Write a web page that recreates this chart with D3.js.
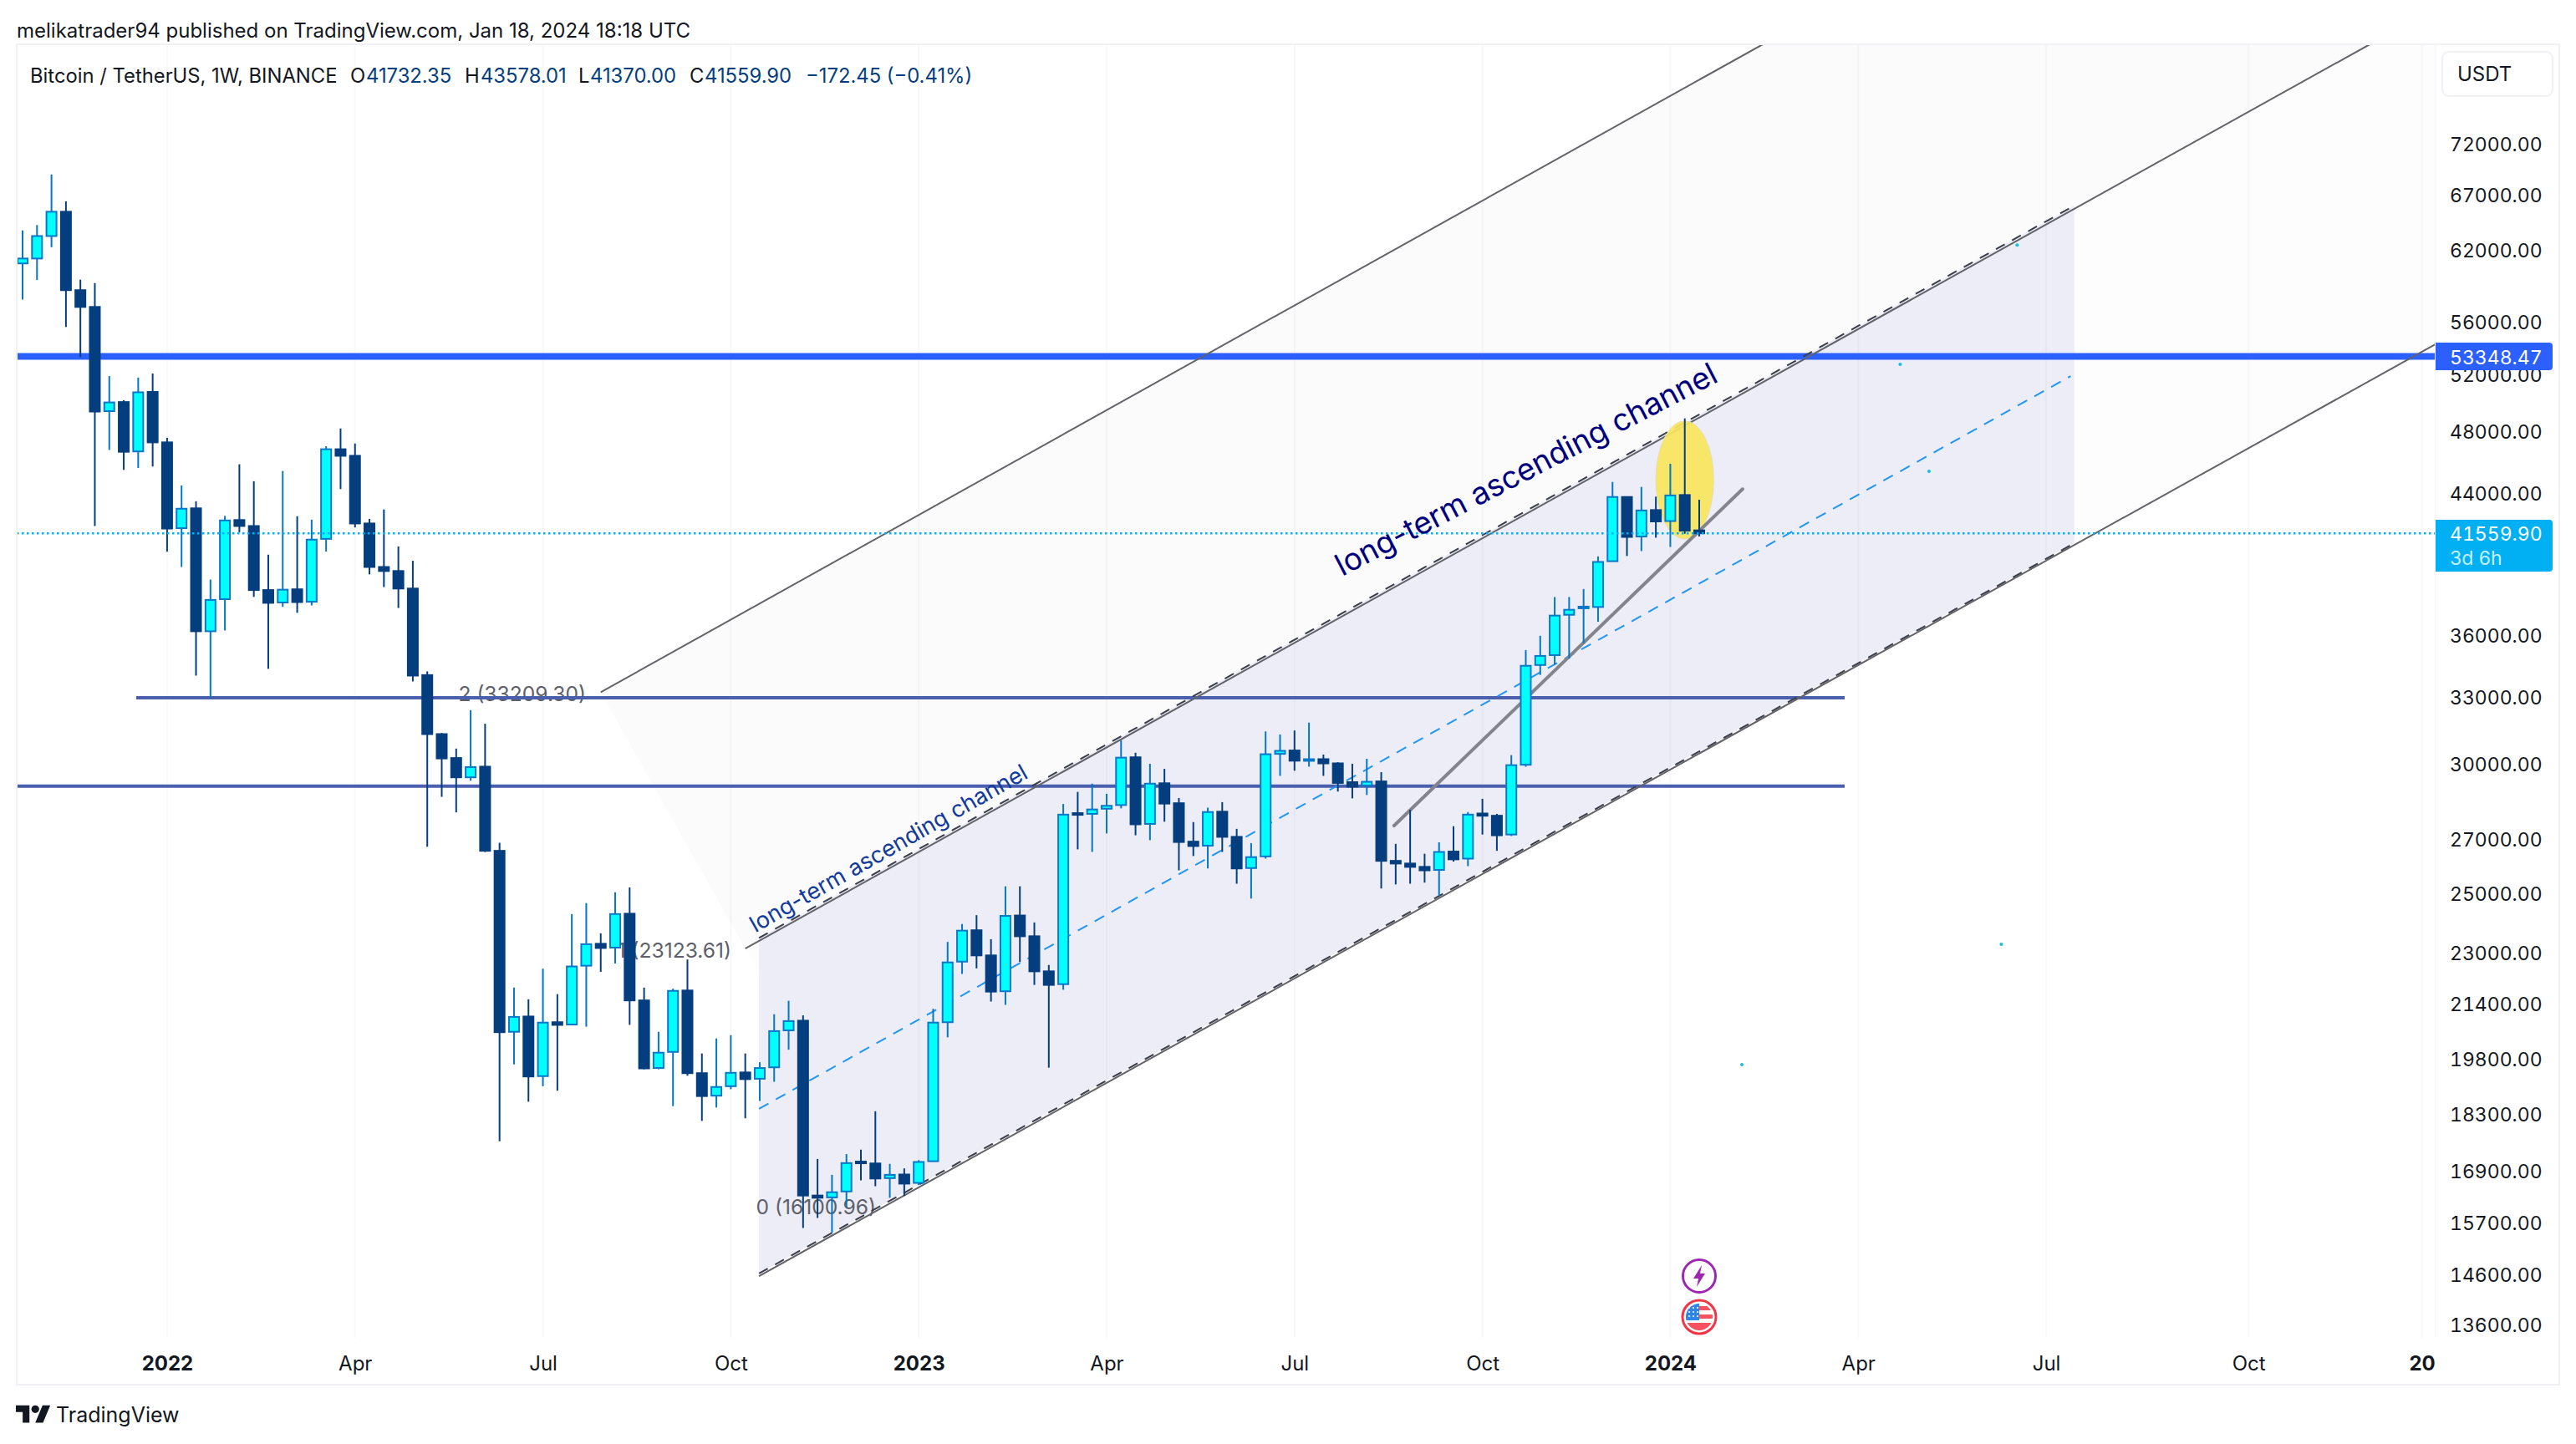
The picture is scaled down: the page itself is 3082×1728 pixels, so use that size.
<!DOCTYPE html>
<html>
<head>
<meta charset="utf-8">
<script src="https://cdn.jsdelivr.net/npm/d3@7"></script>
<style>
  html, body { margin: 0; padding: 0; background: #fff; }
  svg { display: block; }
  text { font-family: Inter, "Noto Sans", sans-serif; }
</style>
</head>
<body>
<script>
// DATA - weekly BTCUSDT candles
var weekOpen = [60833,61257,63232,65440,58580,57209,49380,50020,46653,50740,47253,41859,43051,36191,37869,42345,41989,38359,37693,38400,37732,41233,46797,46365,42140,39630,39404,38441,34020,31300,30261,29447,29894,26545,20559,21008,19312,20840,20772,22570,23280,23154,24290,21491,19534,19984,21794,19393,18786,19039,19413,19241,19554,20601,20885,16316,16273,16410,17117,17072,16722,16808,16610,17126,20840,22700,23729,22901,21771,24228,23529,22392,21990,27995,27966,28170,28316,30293,27571,29201,28390,26891,26739,28053,27074,25907,26337,30439,30585,30147,30212,30033,29247,29108,29278,26172,26073,25950,25838,26517,26254,27981,27893,27163,29975,34507,34992,37042,37410,37452,39954,43745,41371,42946,42284,43867,41732.35];
var weekHigh = [63727,64222,68977,66411,59456,59174,51888,50153,51782,52078,47557,44467,43484,38932,42596,45813,44731,40324,45381,42573,42368,46998,48189,47177,42414,42983,40799,39978,34200,31349,30667,32377,31761,26850,21884,21525,22476,21682,24278,24657,23628,25038,25209,21884,20559,21850,22771,19941,20367,20463,19941,19696,21075,21480,21042,17181,16800,17299,17408,18378,17062,16953,17153,21240,23342,23941,24240,23432,25249,25249,23990,22594,28360,28847,29185,28770,31024,30488,30017,29801,28600,27644,28214,28433,27381,26836,31419,31284,31460,31812,30407,30082,30017,30228,29663,26808,28126,26435,26864,27484,28039,28569,27966,30387,35244,35962,37984,37984,38414,40228,44686,43770,44372,43767,45843,48877,43578.01];
var weekLow = [57801,59425,62242,55611,53290,41989,46749,45453,45573,45669,40498,39630,33995,32962,36230,41622,37989,34320,37459,37147,37537,40498,44237,41902,39220,38523,37400,33715,26697,28646,28024,29309,26500,17617,19635,18627,19039,18918,20772,20708,22376,22640,20761,19500,19500,18512,19322,18129,18474,18958,18196,18647,19160,20047,15585,15807,15479,16040,16670,16532,16265,16307,16558,17126,20400,22310,22485,21457,21356,22688,21967,19544,21817,26600,26503,27206,28185,27133,26947,27659,25824,26351,25893,26503,25341,24815,26254,29508,29724,29894,29508,28862,28585,28723,25170,25315,25341,25380,24907,26144,25977,27162,26545,27104,29892,34029,34525,34819,35593,36680,39954,40249,40530,41305,40768,41530,41370.00];
var weekClose = [61257,63232,65440,58580,57209,49353,49993,46629,50714,47253,41838,43028,36191,37830,42322,41989,38359,37673,38380,37713,41190,46797,46365,42140,39630,39404,38441,33995,31300,30244,29447,29878,26545,20548,20997,19302,20828,20761,22546,23267,23142,24278,21491,19524,19962,21783,19393,18776,19019,19403,19231,19534,20580,20873,16316,16265,16393,17081,17090,16713,16800,16593,17108,20828,22676,23716,22901,21760,24215,23529,22392,21967,27937,27937,28141,28287,30277,27557,29185,28375,26877,26725,28039,27074,25893,26310,30423,30569,30147,30212,30033,29216,29062,29262,26172,26073,25950,25824,26503,26227,27937,27893,27133,29958,34470,34953,37001,37306,37472,39912,43745,41348,42923,42261,43842,41713,41559.90];

var priceTicks = [72000,67000,62000,56000,52000,48000,44000,36000,33000,30000,27000,25000,23000,21400,19800,18300,16900,15700,14600,13600];
var timeTicks = [10,23,36,49,62,75,88,101,114,127,140,154,166];
var timeLabels = ["2022","Apr","Jul","Oct","2023","Apr","Jul","Oct","2024","Apr","Jul","Oct","20"];
var boldLabels = ["2022","2023","2024","20"];

// drawings, as [week, price]
var fanUpper = [[40,33209.30],[120.4,82890],[162.4,82890],[50,23123.61]];
var fanLower = [[50,23123.61],[162.4,82890],[167,82890],[167,54274],[60,16100.96]];
var channelFill = [[50.95,23472],[141.95,66009],[141.95,40983],[50.95,14616]];
var solidLines = [
  [[40,33209.30],[120.4,82890]],
  [[50,23123.61],[162.4,82890]],
  [[50.95,14561],[166.94,54274]]
];
var dashedLines = [
  [[50.95,23472],[141.95,66009]],
  [[50.95,14616],[141.95,40983]]
];
var midLine = [[50.95,18441],[141.7,51891]];
var trendLine = [[94.89,27506],[119,44238]];
var levelLines = [
  [[7.86,32950],[126.06,32950]],
  [[-1,29080],[126.06,29080]]
];
var resistancePrice = 53348.47;
var lastPrice = 41559.90;
var strayDots = [[129.9,52754],[131.9,45360],[136.9,23263],[118.95,19627],[138,62429]];
var ellipseWeeks = [113,117];
var ellipsePrices = [41229,48706];

var width = 3082, height = 1728;
var plot = {left:20, top:53, right:3062, bottom:1657, axisX:2914, axisY:1601};

var svg = d3.select("body").append("svg")
  .attr("width", width).attr("height", height)
  .attr("viewBox", "0 0 " + width + " " + height);

// scales
var x = d3.scaleLinear().domain([0,116]).range([27,2033]);
var y = d3.scaleLog().domain([13600,72000]).range([1585,172.4]);
var path = d3.line().x(function(d){return x(d[0])}).y(function(d){return y(d[1])});

svg.append("clipPath").attr("id","plotClip").append("rect")
  .attr("x",plot.left).attr("y",plot.top)
  .attr("width",plot.axisX-plot.left).attr("height",plot.axisY-plot.top);

var chart = svg.append("g").attr("clip-path","url(#plotClip)");

// fills
chart.append("path").attr("d",path(fanLower)+"Z").attr("fill","#fdfdfd");
chart.append("path").attr("d",path(fanUpper)+"Z").attr("fill","#fbfbfb");
chart.append("path").attr("d",path(channelFill)+"Z").attr("fill","#ecedf6");

// vertical grid
chart.selectAll(".grid").data(timeTicks).enter().append("line")
  .attr("x1",x).attr("x2",x).attr("y1",plot.top).attr("y2",plot.axisY)
  .attr("stroke","#b0b0c8").attr("stroke-opacity",0.09).attr("stroke-width",2);

// fib labels sit under the candles
var fibLabels = chart.append("g").attr("fill","#5d606b").attr("font-size",24.6).attr("text-anchor","end");
fibLabels.append("text").attr("x",701).attr("y",839).text("2 (33209.30)");
fibLabels.append("text").attr("x",875).attr("y",1146).text("1 (23123.61)");
fibLabels.append("text").attr("x",1048).attr("y",1453).text("0 (16100.96)");

// level lines
chart.selectAll(".level").data(levelLines).enter().append("path")
  .attr("d",path).attr("fill","none").attr("stroke","#4a5fae").attr("stroke-width",4);
chart.append("line").attr("x1",plot.left).attr("x2",plot.axisX)
  .attr("y1",y(resistancePrice)).attr("y2",y(resistancePrice))
  .attr("stroke","#2b60ff").attr("stroke-width",8);

// channel lines
chart.selectAll(".solid").data(solidLines).enter().append("path")
  .attr("d",path).attr("fill","none").attr("stroke","#636369").attr("stroke-width",2);
chart.selectAll(".dashed").data(dashedLines).enter().append("path")
  .attr("d",path).attr("fill","none").attr("stroke","#3a3d4a").attr("stroke-width",2)
  .attr("stroke-dasharray","12,10");
chart.append("path").attr("d",path(midLine)).attr("fill","none")
  .attr("stroke","#2196f3").attr("stroke-width",2).attr("stroke-dasharray","13,10");

// yellow ellipse
chart.append("ellipse")
  .attr("cx",(x(ellipseWeeks[0])+x(ellipseWeeks[1]))/2)
  .attr("cy",(y(ellipsePrices[0])+y(ellipsePrices[1]))/2)
  .attr("rx",(x(ellipseWeeks[1])-x(ellipseWeeks[0]))/2)
  .attr("ry",(y(ellipsePrices[0])-y(ellipsePrices[1]))/2)
  .attr("fill","#f9e55c").attr("fill-opacity",0.92)
  .attr("stroke","#e6dfa8").attr("stroke-width",1);

chart.append("path").attr("d",path(trendLine)).attr("fill","none")
  .attr("stroke","#83848c").attr("stroke-width",4).attr("stroke-linecap","round");

// candles
var upWick = "#0677c3", downColor = "#043e7e", upBorder = "#0a78c8", upFill = "#00ffff";
var candles = chart.selectAll(".candle").data(weekOpen).enter().append("g");
candles.append("line")
  .attr("x1",function(d,i){return x(i)}).attr("x2",function(d,i){return x(i)})
  .attr("y1",function(d,i){return y(weekHigh[i])}).attr("y2",function(d,i){return y(weekLow[i])})
  .attr("stroke",function(d,i){return weekClose[i]>=d ? upWick : downColor})
  .attr("stroke-width",2);
candles.append("rect")
  .attr("x",function(d,i){return x(i)-6})
  .attr("width",12)
  .attr("y",function(d,i){return y(Math.max(d,weekClose[i]))})
  .attr("height",function(d,i){return Math.max(Math.abs(y(d)-y(weekClose[i])),2)})
  .attr("fill",function(d,i){return weekClose[i]>=d ? upFill : downColor})
  .attr("stroke",function(d,i){return weekClose[i]>=d ? upBorder : downColor})
  .attr("stroke-width",2);

// stray dots
chart.selectAll(".dot").data(strayDots).enter().append("circle")
  .attr("cx",function(d){return x(d[0])}).attr("cy",function(d){return y(d[1])})
  .attr("r",2).attr("fill","#10c0dc");

// last price line
chart.append("line").attr("x1",plot.left).attr("x2",plot.axisX)
  .attr("y1",y(lastPrice)).attr("y2",y(lastPrice))
  .attr("stroke","#00b0f0").attr("stroke-width",2.5).attr("stroke-dasharray","2.5,3.5");

// channel text
function angled(week, price, angle, size, color, label) {
  chart.append("text")
    .attr("transform","translate("+x(week)+","+y(price)+") rotate("+angle+")")
    .attr("font-size",size).attr("fill",color).text(label);
}
angled(91.3,39100,-27.4,36.7,"#00007f","long-term ascending channel");
angled(50.7,23640,-29.6,27.2,"#123a9c","long-term ascending channel");

// event icons
var iconX = x(116);
var bolt = svg.append("g").attr("transform","translate("+iconX+",1527)");
bolt.append("circle").attr("r",19.5).attr("fill","#fff").attr("stroke","#9c27b0").attr("stroke-width",3);
bolt.append("path").attr("d","M3,-13 L-7,3 L-1,3 L-3,13 L7,-3 L1,-3 Z").attr("fill","#9c27b0");

svg.append("clipPath").attr("id","flagClip").append("circle").attr("r",16);
var flag = svg.append("g").attr("transform","translate("+iconX+",1576)");
flag.append("circle").attr("r",20).attr("fill","#fff").attr("stroke","#f23645").attr("stroke-width",3);
var flagInner = flag.append("g").attr("clip-path","url(#flagClip)");
[-13,-3,7].forEach(function(s,i){
  flagInner.append("rect").attr("x",-17).attr("y",s).attr("width",34).attr("height",i==2?10:5).attr("fill","#f7525f");
});
flagInner.append("rect").attr("x",-17).attr("y",-17).attr("width",17).attr("height",21).attr("fill","#2e87e8");
[-11,-6,-1].forEach(function(sy){
  [-12,-7,-2].forEach(function(sx){
    flagInner.append("circle").attr("cx",sx).attr("cy",sy).attr("r",1).attr("fill","#fff");
  });
});

// axes
var yAxis = d3.axisRight(y).tickValues(priceTicks).tickFormat(d3.format(".2f")).tickSize(0).tickPadding(17);
var yGroup = svg.append("g").attr("transform","translate("+plot.axisX+",0)").call(yAxis);
yGroup.select(".domain").remove();
yGroup.selectAll("text").attr("font-size",23).attr("fill","#131722").attr("dy","0.365em")
  .style("font-family","Inter, sans-serif").style("font-variant-numeric","tabular-nums");

var xAxis = d3.axisBottom(x).tickValues(timeTicks)
  .tickFormat(function(d,i){return timeLabels[i]}).tickSize(0).tickPadding(22);
var xGroup = svg.append("g").attr("transform","translate(0,"+plot.axisY+")").call(xAxis);
xGroup.select(".domain").remove();
xGroup.selectAll("text").attr("font-size",24).attr("fill","#131722")
  .style("font-family","Inter, sans-serif")
  .attr("font-weight",function(d,i){return boldLabels.indexOf(timeLabels[i])>=0 ? 700 : 400});

// frame
svg.append("rect").attr("x",plot.left).attr("y",plot.top)
  .attr("width",plot.right-plot.left).attr("height",plot.bottom-plot.top)
  .attr("fill","none").attr("stroke","#f0f0f5").attr("stroke-width",2);
svg.append("line").attr("x1",plot.axisX).attr("x2",plot.axisX).attr("y1",plot.top).attr("y2",plot.axisY)
  .attr("stroke","#f8f8fb").attr("stroke-width",2);

// price badges
function badge(price, top, h, color) {
  svg.append("path")
    .attr("d","M"+plot.axisX+","+top+"H3050a4,4 0 0 1 4,4V"+(top+h-4)+"a4,4 0 0 1 -4,4H"+plot.axisX+"Z")
    .attr("fill",color);
}
badge(resistancePrice,410,33,"#2b60ff");
svg.append("text").attr("x",2931).attr("y",y(resistancePrice)+9).attr("font-size",23).attr("fill","#fff")
  .style("font-variant-numeric","tabular-nums").text(d3.format(".2f")(resistancePrice));
badge(lastPrice,622,62,"#00b0f3");
svg.append("text").attr("x",2931).attr("y",y(lastPrice)+9).attr("font-size",23).attr("fill","#fff")
  .style("font-variant-numeric","tabular-nums").text(d3.format(".2f")(lastPrice));
svg.append("text").attr("x",2931).attr("y",676).attr("font-size",23).attr("fill","#c5f0ff").text("3d 6h");

// currency button
svg.append("rect").attr("x",2922).attr("y",62).attr("width",132).attr("height",53).attr("rx",8)
  .attr("fill","#fff").attr("stroke","#f0f0f5").attr("stroke-width",2);
svg.append("text").attr("x",2940).attr("y",97).attr("font-size",24).attr("fill","#131722").text("USDT");

// header
svg.append("text").attr("x",20).attr("y",45).attr("font-size",24).attr("fill","#131722")
  .text("melikatrader94 published on TradingView.com, Jan 18, 2024 18:18 UTC");
var headerDark = [[36,"Bitcoin / TetherUS, 1W, BINANCE"],[419,"O"],[556,"H"],[692,"L"],[825,"C"]];
var headerBlue = [[438,"41732.35"],[575,"43578.01"],[706,"41370.00"],[843,"41559.90"],[964,"\u2212172.45 (\u22120.41%)"]];
svg.selectAll(".hd").data(headerDark).enter().append("text")
  .attr("x",function(d){return d[0]}).attr("y",99).attr("font-size",23.8).attr("fill","#131722").text(function(d){return d[1]});
svg.selectAll(".hb").data(headerBlue).enter().append("text")
  .attr("x",function(d){return d[0]}).attr("y",99).attr("font-size",23.8).attr("fill","#053e7e").text(function(d){return d[1]});

// footer logo
svg.append("path").attr("transform","translate(19,1677) scale(1.16)")
  .attr("d","M14 22H7V11H0V4h14v18zM28 22h-8l7.5-18h8L28 22z").attr("fill","#131722");
svg.append("circle").attr("cx",19+20*1.16).attr("cy",1677+8*1.16).attr("r",4*1.16).attr("fill","#131722");
svg.append("text").attr("x",67).attr("y",1702).attr("font-size",25).attr("font-weight",400).attr("fill","#131722").text("TradingView");
</script>
</body>
</html>
